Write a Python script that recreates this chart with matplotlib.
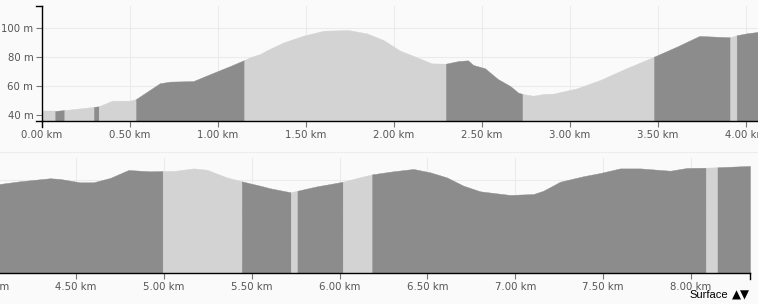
import numpy as np
import matplotlib.pyplot as plt
from matplotlib.lines import Line2D

# Elevation profile (distance in km, elevation in m)
dist_km = [0.000, 0.074, 0.127, 0.295, 0.322, 0.40, 0.50, 0.534, 0.67, 0.727,
           0.86, 0.99, 1.07, 1.149, 1.182, 1.24, 1.277, 1.371, 1.485, 1.60,
           1.74, 1.845, 1.94, 2.034, 2.13, 2.214, 2.295, 2.366, 2.42, 2.45,
           2.517, 2.59, 2.66, 2.706, 2.73, 2.79, 2.85, 2.905, 3.04, 3.17,
           3.32, 3.477, 3.606, 3.735, 3.91, 3.947, 4.004, 4.068, 4.18, 4.352,
           4.41, 4.523, 4.598, 4.694, 4.798, 4.92, 4.993, 5.054, 5.168, 5.244,
           5.358, 5.443, 5.49, 5.55, 5.604, 5.722, 5.76, 5.87, 5.946, 6.018,
           6.10, 6.185, 6.306, 6.42, 6.515, 6.61, 6.704, 6.80, 6.894, 6.97,
           7.103, 7.16, 7.255, 7.388, 7.483, 7.597, 7.711, 7.882, 7.977, 8.085,
           8.151, 8.336]
elev_m = [42.8, 42.8, 43.4, 45.6, 46.0, 49.9, 49.9, 51.0, 61.9, 63.0,
          63.4, 69.9, 73.8, 77.9, 79.8, 82.1, 84.6, 90.0, 94.7, 98.1,
          98.6, 96.3, 91.7, 84.4, 79.8, 75.6, 75.4, 77.2, 77.7, 74.5,
          72.2, 64.8, 60.0, 55.4, 54.5, 53.3, 54.5, 54.7, 58.4, 64.1,
          72.2, 80.2, 87.1, 94.5, 93.6, 95.0, 96.3, 97.3, 99.1, 101.2,
          100.7, 98.4, 98.4, 101.4, 106.9, 106.0, 106.2, 106.2, 108.0, 107.1,
          101.8, 99.1, 97.7, 96.0, 94.3, 91.5, 92.6, 95.6, 97.2, 98.8,
          101.4, 103.9, 106.0, 107.6, 105.3, 101.8, 96.1, 92.2, 90.8, 89.7,
          90.3, 92.6, 98.8, 102.6, 104.8, 108.0, 108.0, 106.4, 108.3, 108.5,
          108.8, 109.7]

# Surface segments
seg_bounds = [0, 0.074, 0.127, 0.295, 0.322, 0.534, 1.149, 2.295, 2.73, 3.477,
              3.91, 3.947, 4.993, 5.443, 5.722, 5.76, 6.018, 6.185, 8.085, 8.151, 8.336]
seg_surface = ['light', 'dark', 'light', 'dark', 'light', 'dark', 'light', 'dark',
               'light', 'dark', 'light', 'dark', 'light', 'dark', 'light', 'dark',
               'light', 'dark', 'light', 'dark']
surface_colors = {'light': '#d3d3d3', 'dark': '#8c8c8c'}

x_ticks = np.arange(0, 8.5, 0.5)
y_ticks = [40, 60, 80, 100]

W, H = 758, 304
bg = '#fafafa'
fig = plt.figure(figsize=(W / 100, H / 100), dpi=100, facecolor=bg)

d = np.array(dist_km)
e = np.array(elev_m)
ymin, ymax = 35.86, 115.17


def draw_profile(ax):
    ax.set_facecolor(bg)
    for i, s in enumerate(seg_surface):
        mask = (d >= seg_bounds[i]) & (d <= seg_bounds[i + 1])
        ax.fill_between(d[mask], ymin, e[mask], color=surface_colors[s], lw=0.3,
                        edgecolor=surface_colors[s], zorder=2)
    ax.set_ylim(ymin, ymax)
    ax.set_xticks(x_ticks)
    ax.set_xticklabels(['%.2f km' % t for t in x_ticks])
    ax.set_yticks(y_ticks)
    ax.set_yticklabels(['%d m' % t for t in y_ticks])
    ax.grid(True, color='#ebebeb', lw=0.8, zorder=0)
    ax.set_axisbelow(True)
    ax.tick_params(labelsize=7.3, labelcolor='#555555', color='#777777',
                   length=4.3, width=0.8, pad=2)
    for sp in ['top', 'right']:
        ax.spines[sp].set_visible(False)
    for sp in ['left', 'bottom']:
        ax.spines[sp].set_color('black')
        ax.spines[sp].set_linewidth(1.0)
        ax.spines[sp].set_zorder(5)


# Top row: 0 - 4.07 km
ax1 = fig.add_axes([42 / W, (H - 121) / H, (W - 42) / W, 115 / H])
draw_profile(ax1)
ax1.set_xlim(0, 716 / 176)

# Bottom row: continuation
ax2 = fig.add_axes([-42 / W, (H - 273) / H, 792 / W, 115 / H])
draw_profile(ax2)
ax2.set_xlim(4.067 - 42 / 175.7, 8.336)
ax2.spines['left'].set_visible(False)
ax2.tick_params(axis='y', left=False, labelleft=False)

# Outer ticks of the axis lines
def px_line(x0, y0, x1, y1, color='black', lw=1.0):
    fig.add_artist(Line2D([x0 / W, x1 / W], [1 - y0 / H, 1 - y1 / H],
                          transform=fig.transFigure, color=color, lw=lw))

px_line(36, 6, 42, 6)
px_line(36, 121, 42, 121)
px_line(42, 121, 42, 127)
px_line(750, 273, 750, 279)
px_line(0, 151.7, W, 151.7, color='#ededed', lw=0.8)

fig.text(728 / W, 1 - 298 / H, 'Surface', ha='right', va='baseline',
         fontsize=8, color='black', family='Liberation Sans')
fig.text(732 / W, 1 - 299 / H, '▲▼', ha='left', va='baseline',
         fontsize=8.5, color='black', family='DejaVu Sans')

fig.savefig('out.png', dpi=100, facecolor=bg)
